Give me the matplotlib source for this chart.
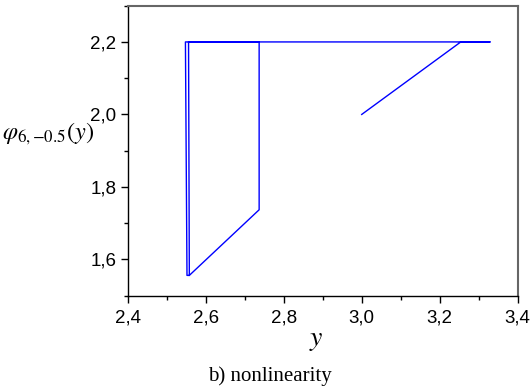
import matplotlib
matplotlib.use('Agg')
import matplotlib.pyplot as plt
from matplotlib.ticker import MultipleLocator, FuncFormatter

# trajectory of the map
ys = [3.0, 3.254, 3.329, 2.548, 2.552, 2.558, 2.737, 2.737, 2.556, 2.558]
phi = [2.0, 2.2, 2.2, 2.2, 1.556, 1.556, 1.737, 2.2, 2.2, 1.556]

plt.rcParams['mathtext.fontset'] = 'stix'
plt.rcParams['font.family'] = ['Liberation Sans', 'DejaVu Sans']

fig = plt.figure(figsize=(5.31, 3.92), dpi=100)
ax = fig.add_axes([0.2405, 0.2457, 0.7345, 0.7398])

ax.plot(ys, phi, color='#0000ff', lw=1.0)

ax.set_xlim(2.4, 3.4)
ax.set_ylim(1.5, 2.3)
ax.xaxis.set_major_locator(MultipleLocator(0.2))
ax.xaxis.set_minor_locator(MultipleLocator(0.1))
ax.yaxis.set_major_locator(MultipleLocator(0.2))
ax.yaxis.set_minor_locator(MultipleLocator(0.1))
comma = FuncFormatter(lambda v, p: f'{v:.1f}'.replace('.', ','))
ax.xaxis.set_major_formatter(comma)
ax.yaxis.set_major_formatter(comma)
ax.tick_params(which='major', direction='out', length=5, width=1, labelsize=13.5)
ax.tick_params(which='minor', direction='out', length=3, width=1)
ax.tick_params(axis='x', which='major', pad=5)
ax.tick_params(axis='y', which='major', pad=3)
ax.tick_params(top=False, right=False)

for s in ['left', 'bottom']:
    ax.spines[s].set_color('black')
    ax.spines[s].set_linewidth(1.0)
for s in ['top', 'right']:
    ax.spines[s].set_color('#666666')
    ax.spines[s].set_linewidth(1.5)

fig.text(2 / 531, 1 - 134 / 392, r'$\varphi_{6,{-0.5}}(y)$', fontsize=17.5, ha='left', va='center')
fig.text(316 / 531, 1 - 340 / 392, r'$y$', fontsize=20, ha='center', va='center')
fig.text(270 / 531, 1 - 376 / 392, 'b) nonlinearity', fontsize=15, ha='center', va='center',
         family=['Liberation Serif', 'DejaVu Serif'])

fig.savefig('out.png', dpi=100)
